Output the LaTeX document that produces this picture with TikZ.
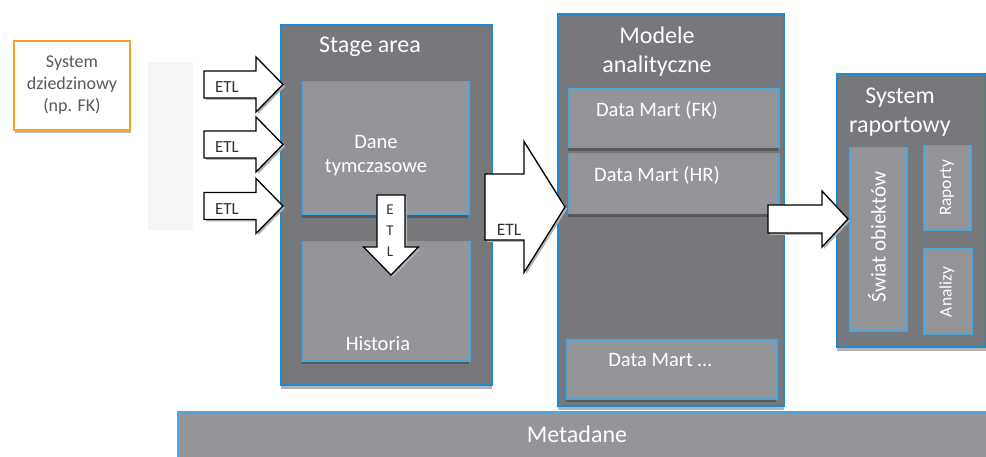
\documentclass[tikz,border=0pt]{standalone}
\usepackage{fontspec}
\setmainfont{Carlito}

\definecolor{panelfill}{HTML}{77787B}
\definecolor{innerfill}{HTML}{939598}
\definecolor{panelline}{HTML}{1F8AD0}
\definecolor{innerline}{HTML}{4BA6DD}
\definecolor{softshadow}{HTML}{B3B3B3}
\definecolor{hardshadow}{HTML}{58595B}
\definecolor{srcorange}{HTML}{F7A128}
\definecolor{srctext}{HTML}{595959}
\definecolor{haze}{HTML}{F5F6F6}

\tikzset{
  panel/.style={draw=panelline, line width=2pt, fill=panelfill, inner sep=0pt, anchor=north west},
  cell/.style={draw=innerline, line width=1.5pt, fill=innerfill, inner sep=0pt, anchor=north west},
  source/.style={draw=srcorange, line width=2pt, fill=white, inner sep=0pt, anchor=north west,
    text=srctext, align=center, font=\fontsize{18}{22}\selectfont},
  wlabel/.style={text=white, inner sep=0pt, align=center},
  blabel/.style={text=black!80, inner sep=0pt, align=center},
  blockarrow/.style={draw=black, line width=1.3pt, fill=white, line join=miter},
  arrowshadow/.style={fill=softshadow},
}

% block arrow pointing right: tail x, head base x, tip x, centre y, shaft half height, head half height
\newcommand{\rightblock}[6]{%
  \fill[arrowshadow, shift={(2,2)}] (#1,#4-#5) -- (#2,#4-#5) -- (#2,#4-#6) -- (#3,#4)
    -- (#2,#4+#6) -- (#2,#4+#5) -- (#1,#4+#5) -- cycle;
  \draw[blockarrow] (#1,#4-#5) -- (#2,#4-#5) -- (#2,#4-#6) -- (#3,#4)
    -- (#2,#4+#6) -- (#2,#4+#5) -- (#1,#4+#5) -- cycle;
}
% block arrow pointing down: tail y, head base y, tip y, centre x, shaft half width, head half width
\newcommand{\downblock}[6]{%
  \fill[arrowshadow, shift={(2,2)}] (#4-#5,#1) -- (#4-#5,#2) -- (#4-#6,#2) -- (#4,#3)
    -- (#4+#6,#2) -- (#4+#5,#2) -- (#4+#5,#1) -- cycle;
  \draw[blockarrow] (#4-#5,#1) -- (#4-#5,#2) -- (#4-#6,#2) -- (#4,#3)
    -- (#4+#6,#2) -- (#4+#5,#2) -- (#4+#5,#1) -- cycle;
}

\begin{document}
\begin{tikzpicture}[x=1pt, y=-1pt]
\useasboundingbox (0,0) rectangle (986,457);

% source system
\fill[softshadow] (15,44) rectangle (131,133);
\node[source, minimum width=116pt, minimum height=89pt] (src) at (13,40)
  {System\\dziedzinowy\\(np. FK)};

% faint strip next to the source
\fill[haze] (148,62) rectangle (193,230);

% stage area
\fill[softshadow] (281,384) rectangle (492,389);
\node[panel, minimum width=211pt, minimum height=360pt] (stage) at (280,24) {};
\node[wlabel, font=\fontsize{24}{29}\selectfont] (stagetitle) at (370,47) {Stage area};

\fill[hardshadow] (302,214) rectangle (468,218);
\node[cell, minimum width=166pt, minimum height=133pt] (tmp) at (302,81) {};
\node[wlabel, font=\fontsize{20.5}{24}\selectfont] (tmptext) at (376,156) {Dane\\tymczasowe};

\fill[hardshadow] (302,360) rectangle (469,364);
\node[cell, minimum width=167pt, minimum height=119pt] (hist) at (302,241) {};
\node[wlabel, font=\fontsize{20.5}{24}\selectfont] (histtext) at (378,344) {Historia};

% analytical models
\fill[softshadow] (558,405) rectangle (784,410);
\node[panel, minimum width=226pt, minimum height=392pt] (models) at (557,13) {};
\node[wlabel, font=\fontsize{24}{29}\selectfont] (modelstitle) at (657,52) {Modele\\analityczne};

\fill[hardshadow] (568,147) rectangle (778,151);
\node[cell, minimum width=210pt, minimum height=59pt] (dmfk) at (568,88) {};
\node[wlabel, font=\fontsize{20.5}{24}\selectfont] (dmfktext) at (657,110) {Data Mart (FK)};

\fill[hardshadow] (568,213) rectangle (778,217);
\node[cell, minimum width=210pt, minimum height=60pt] (dmhr) at (568,153) {};
\node[wlabel, font=\fontsize{20.5}{24}\selectfont] (dmhrtext) at (657,175) {Data Mart (HR)};

\fill[hardshadow] (566,398) rectangle (776,402);
\node[cell, minimum width=210pt, minimum height=59pt] (dmx) at (566,339) {};
\node[wlabel, font=\fontsize{20.5}{24}\selectfont] (dmxtext) at (660,360) {Data Mart …};

% reporting system
\fill[softshadow] (837,346) rectangle (986,351);
\node[panel, minimum width=149pt, minimum height=273pt] (rep) at (836,73) {};
\node[wlabel, font=\fontsize{24}{29}\selectfont] (reptitle) at (900,112) {System\\raportowy};

\node[cell, minimum width=57pt, minimum height=183pt] (world) at (849,147) {};
\node[wlabel, rotate=90, font=\fontsize{21}{25}\selectfont] (worldtext) at (877,237) {Świat obiektów};

\node[cell, minimum width=47pt, minimum height=85pt] (reports) at (923,145) {};
\node[wlabel, rotate=90, font=\fontsize{17.4}{21}\selectfont] (reportstext) at (947,188) {Raporty};

\node[cell, minimum width=48pt, minimum height=85pt] (analyses) at (923,248) {};
\node[wlabel, rotate=90, font=\fontsize{17.4}{21}\selectfont] (analysestext) at (947,292) {Analizy};

% metadata bar
\node[cell, minimum width=830pt, minimum height=60pt] (meta) at (177,411) {};
\node[wlabel, font=\fontsize{24}{29}\selectfont] (metatext) at (577,434) {Metadane};

% ETL arrows into the stage area
\rightblock{204}{256}{283}{84.5}{13.5}{27.5}
\node[blabel, font=\fontsize{17}{20}\selectfont] (etla) at (227,87) {ETL};
\rightblock{204}{256}{283}{144.5}{13.5}{27.5}
\node[blabel, font=\fontsize{17}{20}\selectfont] (etlb) at (227,147) {ETL};
\rightblock{204}{256}{283}{206}{13.5}{27.5}
\node[blabel, font=\fontsize{17}{20}\selectfont] (etlc) at (227,209) {ETL};

% ETL from temporary data to history
\downblock{195}{247}{275}{391}{14}{27.5}
\node[blabel, font=\fontsize{15}{21}\selectfont] (etld) at (390,231) {E\\T\\L};

% ETL from stage area to the models
\rightblock{485}{524}{565}{207}{33}{65.5}
\node[blabel, font=\fontsize{17.5}{20}\selectfont] (etle) at (509,230) {ETL};

% models feed the reporting system
\rightblock{768}{822}{848}{219}{14}{28}
\end{tikzpicture}
\end{document}
